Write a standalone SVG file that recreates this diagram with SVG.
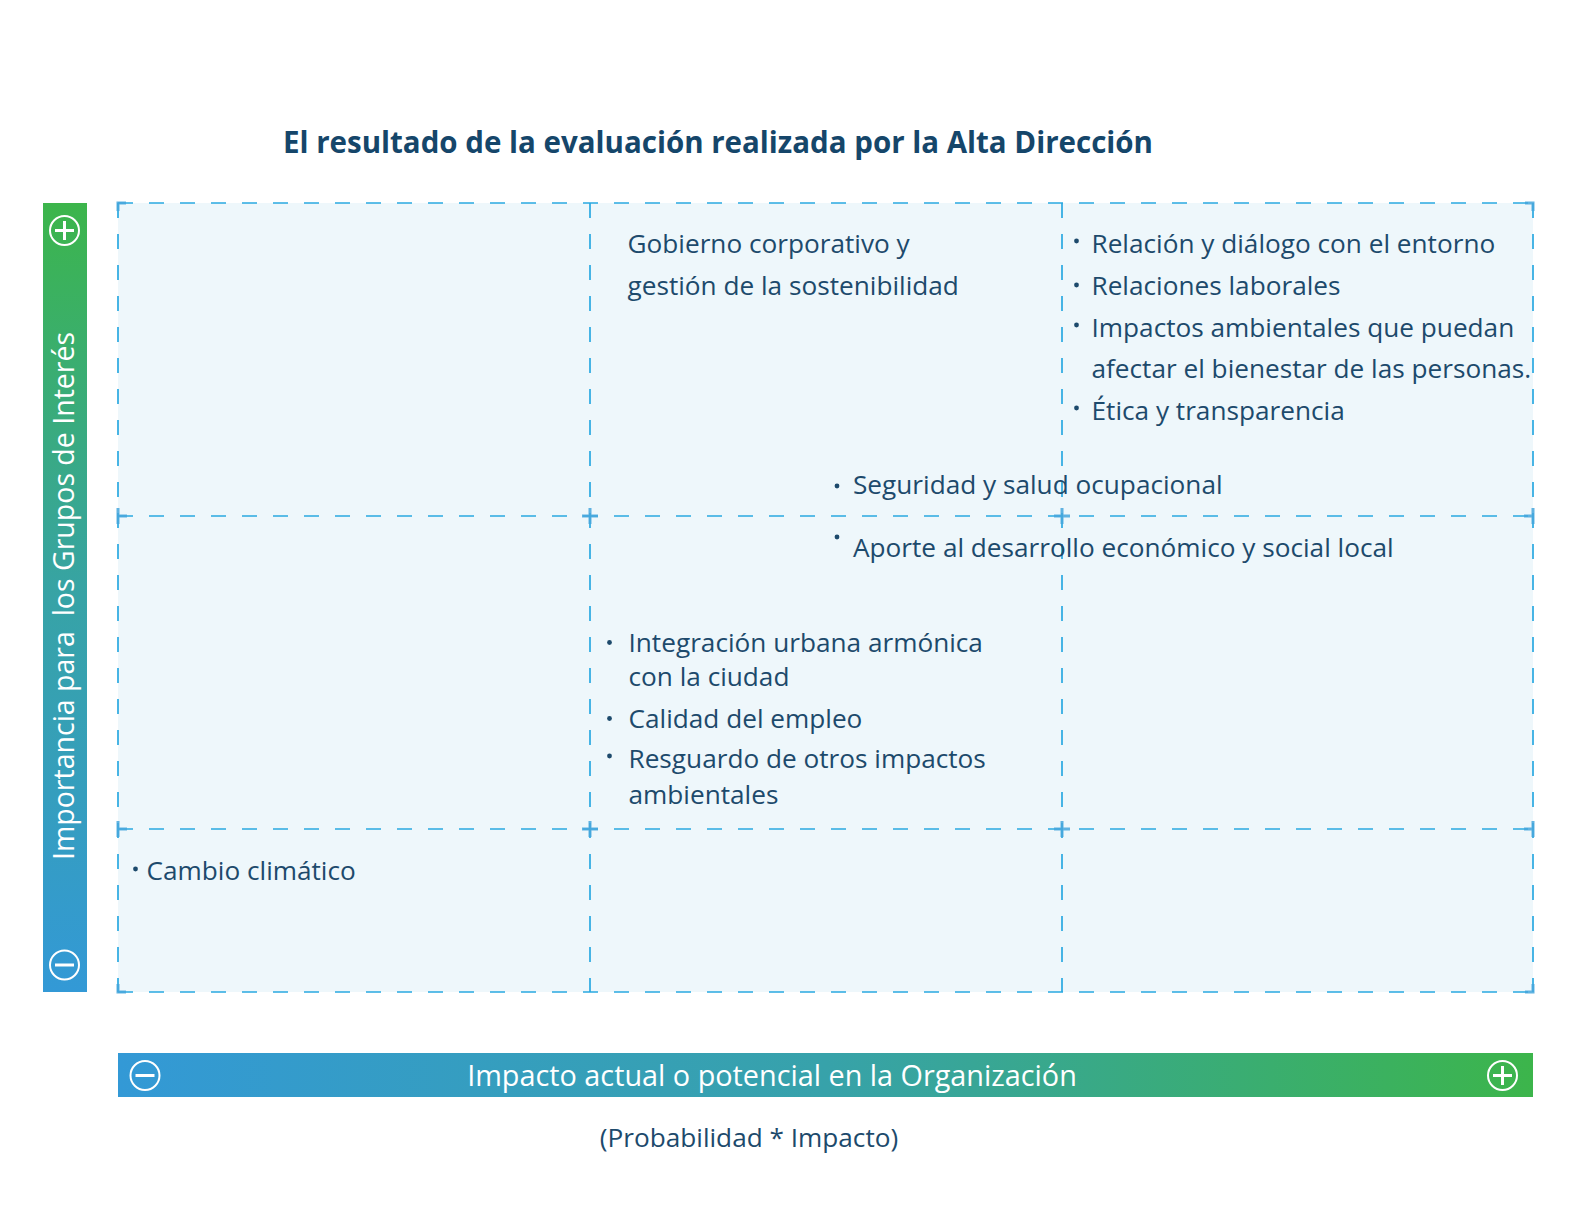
<svg xmlns="http://www.w3.org/2000/svg" width="1584" height="1224" viewBox="0 0 1584 1224">
  <defs>
    <linearGradient id="gV" x1="0" y1="0" x2="0" y2="1">
      <stop offset="0" stop-color="#3cb54b"/>
      <stop offset="0.5" stop-color="#37a3a6"/>
      <stop offset="1" stop-color="#3399d6"/>
    </linearGradient>
    <linearGradient id="gH" x1="0" y1="0" x2="1" y2="0">
      <stop offset="0" stop-color="#3399d6"/>
      <stop offset="0.5" stop-color="#37a2aa"/>
      <stop offset="1" stop-color="#3cb54b"/>
    </linearGradient>
    <style>
      .t { font-family: "Open Sans", "Noto Sans", "DejaVu Sans", sans-serif; font-size: 26.2px; fill: #1d4a6c; }
      .title { font-family: "Open Sans", "Noto Sans", sans-serif; font-size: 29.5px; font-weight: bold; fill: #15466a; }
      .w { font-family: "Open Sans", "Noto Sans", sans-serif; fill: #ffffff; }
      .dash { stroke: #2aa9e1; stroke-width: 1.7; stroke-dasharray: 15 16; fill: none; }
      .mark { stroke: #45a6dc; stroke-width: 3; fill: none; opacity: 0.85; }
      .ic { stroke: #ffffff; stroke-width: 2; fill: none; }
      .icl { stroke: #ffffff; stroke-width: 3; fill: none; }
      .b { fill: #1d4a6c; }
    </style>
  </defs>

  <rect width="1584" height="1224" fill="#ffffff"/>

  <text class="title" x="718" y="153" text-anchor="middle">El resultado de la evaluación realizada por la Alta Dirección</text>

  <!-- matrix background -->
  <rect id="matrix-bg" x="118" y="203" width="1415" height="789" fill="#eef7fb"/>

  <g id="connectors">
    <!-- horizontal dashed lines -->
    <line class="dash" x1="118" y1="203" x2="1533" y2="203"/>
    <line class="dash" x1="118" y1="516" x2="1533" y2="516"/>
    <line class="dash" x1="118" y1="829" x2="1533" y2="829"/>
    <line class="dash" x1="118" y1="992" x2="1533" y2="992"/>
    <!-- vertical dashed lines -->
    <line class="dash" x1="118" y1="203" x2="118" y2="992"/>
    <line class="dash" x1="590" y1="203" x2="590" y2="992"/>
    <line class="dash" x1="1062" y1="203" x2="1062" y2="992"/>
    <line class="dash" x1="1533" y1="203" x2="1533" y2="992"/>
    <!-- intersection marks -->
    <path class="mark" d="M582 516h16M590 508v16"/>
    <path class="mark" d="M1054 516h16M1062 508v16"/>
    <path class="mark" d="M582 829h16M590 821v16"/>
    <path class="mark" d="M1054 829h16M1062 821v16"/>
    <path class="mark" d="M118 508v16M118 516h9"/>
    <path class="mark" d="M118 821v16M118 829h9"/>
    <path class="mark" d="M1533 508v16M1533 516h-9"/>
    <path class="mark" d="M1533 821v16M1533 829h-9"/>
    <path class="mark" d="M118 211v-8h8"/>
    <path class="mark" d="M1525 203h8v8"/>
    <path class="mark" d="M118 984v8h8"/>
    <path class="mark" d="M1525 992h8v-8"/>
  </g>

  <!-- vertical axis bar -->
  <g id="axis-y">
    <rect x="43" y="203" width="44" height="789" fill="url(#gV)"/>
    <circle class="ic" cx="64.5" cy="230.5" r="14.5"/>
    <path class="icl" d="M55 230.5h19M64.5 221v19"/>
    <circle class="ic" cx="64.5" cy="965" r="14.5"/>
    <path class="icl" d="M55 965h19"/>
    <text class="w" font-size="28.5" xml:space="preserve" transform="translate(74 596) rotate(-90)" text-anchor="middle">Importancia para  los Grupos de Interés</text>
  </g>

  <!-- horizontal axis bar -->
  <g id="axis-x">
    <rect x="118" y="1053" width="1415" height="44" fill="url(#gH)"/>
    <circle class="ic" cx="145" cy="1075.5" r="14.5"/>
    <path class="icl" d="M135.5 1075.5h19"/>
    <circle class="ic" cx="1502.5" cy="1075.5" r="14.5"/>
    <path class="icl" d="M1493 1075.5h19M1502.5 1066v19"/>
    <text class="w" font-size="28.8" x="772" y="1086" text-anchor="middle">Impacto actual o potencial en la Organización</text>
  </g>

  <text id="axis-x-sub" class="t" x="749" y="1147" text-anchor="middle">(Probabilidad * Impacto)</text>

  <!-- cell texts -->
  <g id="gobierno">
    <text class="t" x="627.5" y="253">Gobierno corporativo y</text>
    <text class="t" x="627.5" y="295">gestión de la sostenibilidad</text>
  </g>

  <g id="alta-alta">
    <circle class="b" cx="1076.5" cy="241" r="2.4"/>
    <text class="t" x="1091.5" y="253">Relación y diálogo con el entorno</text>
    <circle class="b" cx="1076.5" cy="285" r="2.4"/>
    <text class="t" x="1091.5" y="295">Relaciones laborales</text>
    <circle class="b" cx="1076.5" cy="325" r="2.4"/>
    <text class="t" x="1091.5" y="336.5">Impactos ambientales que puedan</text>
    <text class="t" x="1091.5" y="378">afectar el bienestar de las personas.</text>
    <circle class="b" cx="1076.5" cy="408" r="2.4"/>
    <text class="t" x="1091.5" y="419.5">Ética y transparencia</text>
  </g>

  <g id="seguridad">
    <circle class="b" cx="837" cy="486" r="2.4"/>
    <text class="t" x="853" y="494">Seguridad y salud ocupacional</text>
  </g>

  <g id="aporte">
    <circle class="b" cx="837" cy="537" r="2.4"/>
    <text class="t" x="853" y="557">Aporte al desarrollo económico y social local</text>
  </g>

  <g id="media-media">
    <circle class="b" cx="609.5" cy="642.5" r="2.4"/>
    <text class="t" x="628.5" y="652">Integración urbana armónica</text>
    <text class="t" x="628.5" y="686">con la ciudad</text>
    <circle class="b" cx="609.5" cy="718.5" r="2.4"/>
    <text class="t" x="628.5" y="727.5">Calidad del empleo</text>
    <circle class="b" cx="609.5" cy="756" r="2.4"/>
    <text class="t" x="628.5" y="768">Resguardo de otros impactos</text>
    <text class="t" x="628.5" y="804">ambientales</text>
  </g>

  <g id="cambio">
    <circle class="b" cx="135.5" cy="869" r="2.4"/>
    <text class="t" x="146.5" y="880">Cambio climático</text>
  </g>
</svg>
